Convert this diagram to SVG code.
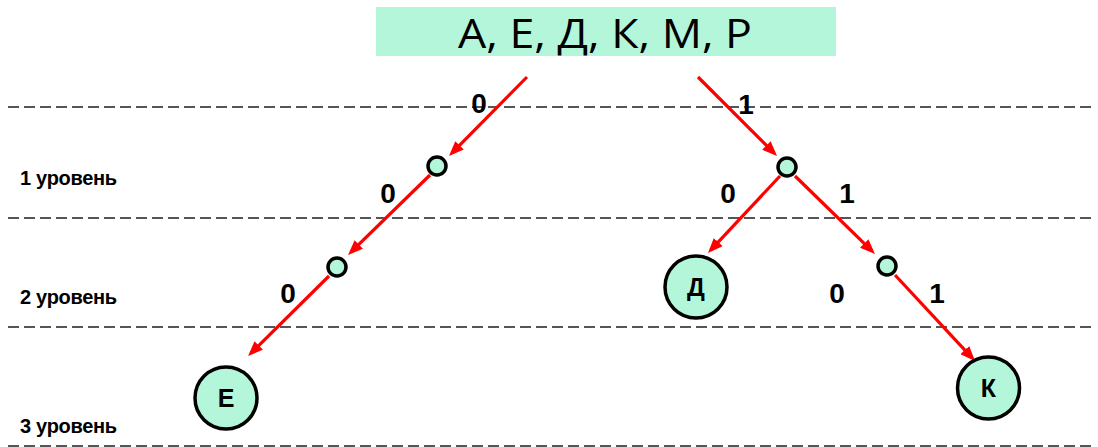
<svg xmlns="http://www.w3.org/2000/svg" width="1098" height="447" viewBox="0 0 1098 447">
<style>
.dash{stroke:#555;stroke-width:2;stroke-dasharray:11 5;fill:none}
.lvl{font-family:"Liberation Sans",Arial,sans-serif;font-weight:bold;font-size:20px;fill:#000;letter-spacing:-0.3px}
.bit{font-family:"Liberation Sans",Arial,sans-serif;font-weight:bold;font-size:28px;fill:#000;text-anchor:middle}
.edge{stroke:#ff0000;stroke-width:3.2;fill:none;marker-end:url(#arr)}
.small{fill:#b4f6d9;stroke:#000;stroke-width:3.5}
.big{fill:#b4f6d9;stroke:#000;stroke-width:3.5}
.lbl{font-family:"Liberation Sans",Arial,sans-serif;font-weight:bold;font-size:25px;fill:#000;text-anchor:middle}
</style>
<defs>
<marker id="arr" markerUnits="userSpaceOnUse" markerWidth="15" markerHeight="12" refX="11" refY="6" orient="auto">
<path d="M0,0 L15,6 L0,12 z" fill="#ff0000"/>
</marker>
</defs>
<rect width="1098" height="447" fill="#fff"/>
<g id="title">
<rect x="376" y="7" width="460" height="49" fill="#b4f6d9"/>
<text x="605" y="48" font-family="'Open Sans',sans-serif" font-size="41" text-anchor="middle" textLength="294" lengthAdjust="spacingAndGlyphs" fill="#000">А, Е, Д, К, М, Р</text>
</g>
<g id="levels">
<line class="dash" x1="8" y1="107" x2="1096" y2="107"/>
<line class="dash" x1="8" y1="218" x2="1096" y2="218"/>
<line class="dash" x1="8" y1="327" x2="1096" y2="327"/>
<line class="dash" x1="8" y1="446" x2="1096" y2="446"/>
<text class="lvl" x="20" y="185">1 уровень</text>
<text class="lvl" x="20" y="304">2 уровень</text>
<text class="lvl" x="20" y="433">3 уровень</text>
</g>
<g id="connectors">
<line class="edge" x1="527" y1="77" x2="451.8" y2="153.2"/>
<line class="edge" x1="430" y1="175" x2="350.9" y2="252.2"/>
<line class="edge" x1="329" y1="276" x2="250.9" y2="353.2"/>
<line class="edge" x1="698" y1="77" x2="774.2" y2="153.2"/>
<line class="edge" x1="780" y1="176" x2="710.7" y2="250.1"/>
<line class="edge" x1="795" y1="176" x2="872.1" y2="251.2"/>
<line class="edge" x1="895" y1="275" x2="972.3" y2="358.1"/>
<text class="bit" x="479" y="113">0</text>
<text class="bit" x="746" y="114">1</text>
<text class="bit" x="388" y="203">0</text>
<text class="bit" x="728" y="203">0</text>
<text class="bit" x="847" y="203">1</text>
<text class="bit" x="288" y="303">0</text>
<text class="bit" x="837" y="303">0</text>
<text class="bit" x="937" y="303">1</text>
</g>
<g id="n1"><circle class="small" cx="437" cy="166" r="9"/></g>
<g id="n2"><circle class="small" cx="337" cy="267" r="9"/></g>
<g id="n3"><circle class="small" cx="787" cy="167" r="9"/></g>
<g id="n4"><circle class="small" cx="887" cy="266" r="9"/></g>
<g id="nE"><circle class="big" cx="226" cy="398" r="31"/><text class="lbl" x="226" y="407">Е</text></g>
<g id="nD"><circle class="big" cx="696" cy="287" r="31"/><text class="lbl" x="696" y="296">Д</text></g>
<g id="nK"><circle class="big" cx="988.5" cy="388" r="31"/><text class="lbl" x="988.5" y="397">К</text></g>
</svg>
